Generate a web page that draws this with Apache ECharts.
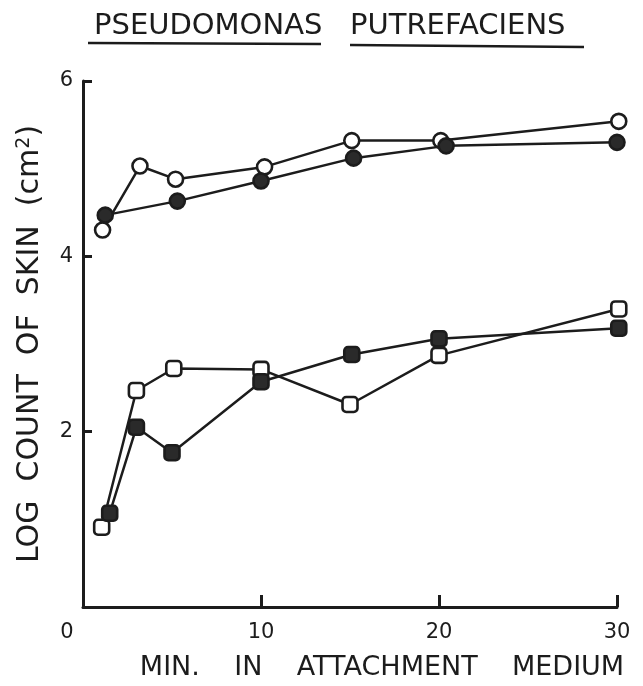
<!DOCTYPE html>
<html>
<head>
<meta charset="utf-8">
<script src="https://cdn.jsdelivr.net/npm/echarts@6/dist/echarts.min.js"></script>
<style>
  html, body { margin: 0; padding: 0; background: #fff; }
  #chart { width: 643px; height: 686px; }
</style>
</head>
<body>
<div id="chart"></div>
<script>
// Minutes in attachment medium (x) and log counts per cm² of skin (y)
const openCircleX   = [1.1, 3.2, 5.2, 10.2, 15.1, 20.1, 30.1];
const openCircleY   = [4.30, 5.03, 4.88, 5.02, 5.32, 5.32, 5.54];
const filledCircleX = [1.25, 5.3, 10.0, 15.2, 20.4, 30.0];
const filledCircleY = [4.47, 4.63, 4.86, 5.12, 5.26, 5.30];
const openSquareX   = [1.05, 3.0, 5.1, 10.0, 15.0, 20.0, 30.1];
const openSquareY   = [0.91, 2.47, 2.72, 2.71, 2.31, 2.87, 3.40];
const filledSquareX = [1.5, 3.0, 5.0, 10.0, 15.1, 20.0, 30.1];
const filledSquareY = [1.07, 2.05, 1.76, 2.57, 2.88, 3.06, 3.18];

const xTicks = [0, 10, 20, 30];
const yTicks = [2, 4, 6];

const titleWords = ['PSEUDOMONAS', 'PUTREFACIENS'];
const xTitle = 'MIN.    IN    ATTACHMENT    MEDIUM';
const yTitle = 'LOG  COUNT  OF  SKIN  (cm{s|2})';

const ink = '#1c1c1c';
const font = 'DejaVu Sans';

const pairs = (xs, ys) => xs.map((x, i) => [x, ys[i]]);

function series(xs, ys, symbol, filled, z) {
  return {
    type: 'line',
    data: pairs(xs, ys),
    symbol: symbol,
    symbolSize: 15,
    showAllSymbol: true,
    clip: false,
    z: z,
    lineStyle: { color: ink, width: 2.5 },
    itemStyle: { color: filled ? '#2a2a2a' : '#ffffff', borderColor: ink, borderWidth: 2.6 },
    emphasis: { disabled: true },
    animation: false
  };
}

const chart = echarts.init(document.getElementById('chart'), null, { renderer: 'canvas' });
chart.setOption({
  backgroundColor: '#ffffff',
  animation: false,
  title: {
    text: titleWords.join('   '),
    left: 89,
    top: 7,
    textStyle: { fontFamily: font, fontSize: 29, fontWeight: 'normal', color: ink }
  },
  graphic: [
    { type: 'line', shape: { x1: 88, y1: 43, x2: 321, y2: 44 }, style: { stroke: ink, lineWidth: 2.5 } },
    { type: 'line', shape: { x1: 350, y1: 45, x2: 584, y2: 47 }, style: { stroke: ink, lineWidth: 2.5 } }
  ],
  grid: { left: 83, top: 81, width: 534, height: 528, containLabel: false },
  xAxis: {
    type: 'value',
    min: 0, max: 30, interval: 10,
    axisLine: { lineStyle: { color: ink, width: 3 } },
    axisTick: { inside: true, length: 12, lineStyle: { color: ink, width: 3 } },
    splitLine: { show: false },
    axisLabel: {
      margin: 15,
      fontFamily: font, fontSize: 21, color: ink,
      formatter: v => (xTicks.indexOf(v) === 0 ? '{o|' + v + '}' : String(v)),
      rich: { o: { fontFamily: font, fontSize: 21, color: ink, padding: [0, 32, 0, 0] } }
    },
    name: xTitle,
    nameLocation: 'middle',
    nameGap: 47,
    nameTextStyle: { fontFamily: font, fontSize: 27, color: ink, padding: [0, 0, 0, 64] }
  },
  yAxis: {
    type: 'value',
    min: 0, max: 6, interval: 2,
    axisLine: { lineStyle: { color: ink, width: 3 } },
    axisTick: { inside: true, length: 9, lineStyle: { color: ink, width: 3 } },
    splitLine: { show: false },
    axisLabel: {
      margin: 10,
      fontFamily: font, fontSize: 21, color: ink,
      formatter: v => (yTicks.indexOf(v) >= 0 ? String(v) : '')
    },
    name: yTitle,
    nameLocation: 'middle',
    nameRotate: 90,
    nameGap: 37,
    nameTextStyle: {
      fontFamily: font, fontSize: 30, color: ink,
      rich: { s: { fontFamily: font, fontSize: 19, color: ink, verticalAlign: 'top', padding: [0, 0, 12, 0] } }
    }
  },
  series: [
    series(openCircleX, openCircleY, 'circle', false, 2),
    series(filledCircleX, filledCircleY, 'circle', true, 3),
    series(openSquareX, openSquareY, 'roundRect', false, 2),
    series(filledSquareX, filledSquareY, 'roundRect', true, 3)
  ]
});
</script>
</body>
</html>
